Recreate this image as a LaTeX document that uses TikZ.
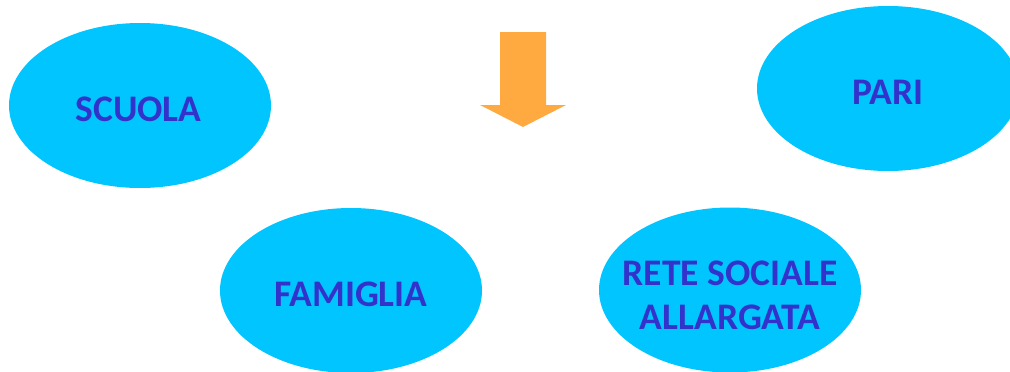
\documentclass[tikz,border=0pt]{standalone}
\usepackage{fontspec}
\setmainfont{Carlito}
\usetikzlibrary{shapes.geometric}
\definecolor{ellfill}{RGB}{0,197,255}
\definecolor{txtblue}{RGB}{51,51,204}
\definecolor{arrorange}{RGB}{255,170,64}
\tikzset{
  blob/.style={ellipse, fill=ellfill, draw=none, minimum width=262pt, minimum height=165pt, inner sep=0pt},
  blobtext/.style={text=txtblue, font=\fontsize{37.5}{44}\selectfont\bfseries, align=center, inner sep=0pt},
}
\begin{document}
\begin{tikzpicture}[x=1pt,y=-1pt]
\useasboundingbox (0,0) rectangle (1010,372);
\clip (0,0) rectangle (1010,372);
\node[blob] (scuola) at (140,105.5) {};
\node[blobtext] (scuolat) at (138.5,109) {SCUOLA};
\node[blob] (pari) at (888,88.5) {};
\node[blobtext] (parit) at (888,92) {PARI};
\node[blob] (famiglia) at (351,290.5) {};
\node[blobtext] (famigliat) at (351,294) {FAMIGLIA};
\node[blob] (rete) at (730,290) {};
\node[blobtext] (retet) at (730,295) {RETE SOCIALE\\ALLARGATA};
\fill[arrorange] (500,32) -- (546,32) -- (546,105) -- (566,105) -- (523,127) -- (480,105) -- (500,105) -- cycle;
\end{tikzpicture}
\end{document}
